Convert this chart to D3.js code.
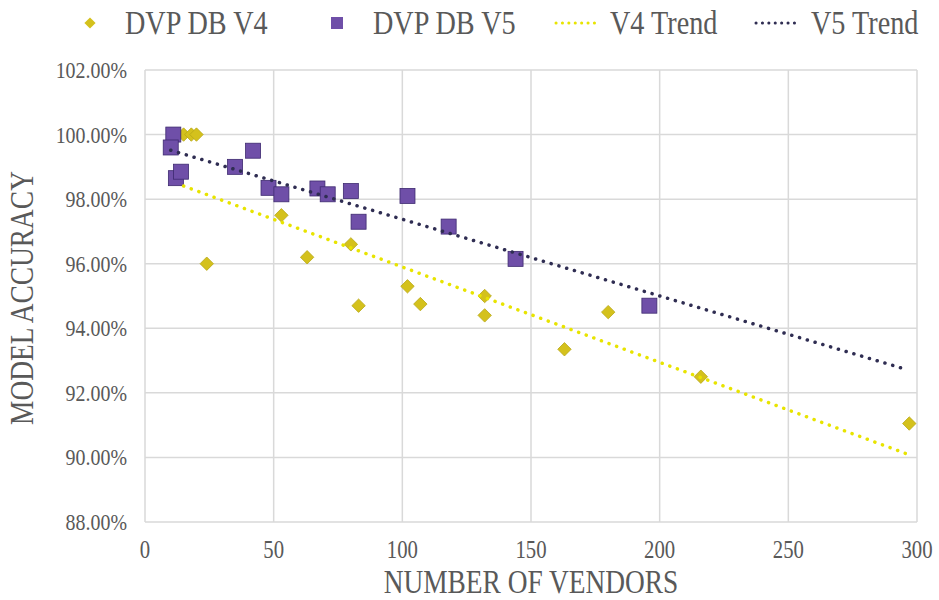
<!DOCTYPE html>
<html><head><meta charset="utf-8">
<script src="https://cdn.jsdelivr.net/npm/d3@7"></script>
<style>body{margin:0;background:#fff}svg{display:block}</style>
</head><body>
<svg id="c" width="939" height="600"></svg>
<script>
const v4X = [15, 18, 20, 24, 53, 63, 80, 83, 102, 107, 132, 132, 163, 180, 216, 297];
const v4Y = [100, 100, 100, 96.0, 97.5, 96.2, 96.6, 94.7, 95.3, 94.75, 95.0, 94.4, 93.35, 94.5, 92.5, 91.05];
const v5X = [11, 10, 12, 14, 42, 35, 48, 53, 67, 71, 80, 83, 102, 118, 144, 196];
const v5Y = [100, 99.6, 98.65, 98.85, 99.5, 99.0, 98.35, 98.15, 98.33, 98.15, 98.25, 97.3, 98.1, 97.15, 96.15, 94.7];
const xTicks = [0, 50, 100, 150, 200, 250, 300];
const yTicks = [88, 90, 92, 94, 96, 98, 100, 102];
const seriesNames = ["DVP DB V4", "DVP DB V5", "V4 Trend", "V5 Trend"];
const trendEnd = 296;

const svg = d3.select("#c");
const L = 145, R = 917, T = 70, B = 522;
const x = d3.scaleLinear().domain([0, 300]).range([L, R]);
const y = d3.scaleLinear().domain([88, 102]).range([B, T]);
const font = "'Liberation Serif','Times New Roman',serif";
const txt = "#595959";
const SX = 0.83;

// gridlines
svg.append("g").selectAll("line").data(yTicks).join("line")
  .attr("x1", L).attr("x2", R).attr("y1", d => y(d)).attr("y2", d => y(d))
  .attr("stroke", "#d9d9d9").attr("stroke-width", 1.5);
svg.append("g").selectAll("line").data(xTicks).join("line")
  .attr("y1", T).attr("y2", B).attr("x1", d => x(d)).attr("x2", d => x(d))
  .attr("stroke", "#d9d9d9").attr("stroke-width", 1.5);

// tick labels
svg.append("g").selectAll("text").data(xTicks).join("text")
  .attr("transform", d => `translate(${x(d)},558) scale(${SX},1)`)
  .attr("text-anchor", "middle").attr("font-family", font).attr("font-size", 25).attr("fill", txt)
  .text(d3.format("d"));
svg.append("g").selectAll("text").data(yTicks).join("text")
  .attr("transform", d => `translate(127,${y(d) + 8}) scale(${SX},1)`)
  .attr("text-anchor", "end").attr("font-family", font).attr("font-size", 24).attr("fill", txt)
  .text(d => d.toFixed(2) + "%");

svg.append("text").attr("transform", `translate(${(L + R) / 2},593) scale(${SX},1)`).attr("text-anchor", "middle")
  .attr("font-family", font).attr("font-size", 33).attr("fill", txt).text("NUMBER OF VENDORS");
svg.append("text").attr("transform", `translate(33,${(T + B) / 2 + 2}) rotate(-90) scale(${SX},1)`).attr("text-anchor", "middle")
  .attr("font-family", font).attr("font-size", 33).attr("fill", txt).text("MODEL ACCURACY");

// regression
function fit(xs, ys) {
  const mx = d3.mean(xs), my = d3.mean(ys);
  let sxy = 0, sxx = 0;
  xs.forEach((xv, i) => { sxy += (xv - mx) * (ys[i] - my); sxx += (xv - mx) ** 2; });
  const m = sxy / sxx; return { m, b: my - m * mx };
}
const f4 = fit(v4X, v4Y), f5 = fit(v5X, v5Y);
const line = d3.line().x(d => x(d[0])).y(d => y(d[1]));
const t4 = [d3.min(v4X), d3.max(v4X)].map(v => [v, f4.m * v + f4.b]);
const t5 = [d3.min(v5X), trendEnd].map(v => [v, f5.m * v + f5.b]);

const c4 = "#d4c11c", c4s = "#b8a818", c5 = "#6f4fa8", c5s = "#3e2a70";
const ct4 = "#e8e400", ct5 = "#2f2d52";

// markers
const diamond = d3.symbol().type(d3.symbolDiamond2).size(115);
svg.append("g").selectAll("path").data(v4X.map((v, i) => [v, v4Y[i]])).join("path")
  .attr("d", diamond).attr("transform", d => `translate(${x(d[0])},${y(d[1])})`)
  .attr("fill", c4).attr("stroke", c4s).attr("stroke-width", 0.8);
svg.append("g").selectAll("rect").data(v5X.map((v, i) => [v, v5Y[i]])).join("rect")
  .attr("x", d => x(d[0]) - 7.5).attr("y", d => y(d[1]) - 7.5).attr("width", 15).attr("height", 15)
  .attr("fill", c5).attr("stroke", c5s).attr("stroke-width", 0.8);

svg.append("path").attr("d", line(t4)).attr("fill", "none").attr("stroke", ct4)
  .attr("stroke-width", 3.5).attr("stroke-linecap", "round").attr("stroke-dasharray", "0.1 8");
svg.append("path").attr("d", line(t5)).attr("fill", "none").attr("stroke", ct5)
  .attr("stroke-width", 3.5).attr("stroke-linecap", "round").attr("stroke-dasharray", "0.1 8");

// legend
const lg = svg.append("g").attr("font-family", font).attr("font-size", 34).attr("fill", txt);
lg.append("path").attr("d", d3.symbol().type(d3.symbolDiamond2).size(80)).attr("transform", "translate(90,23)").attr("fill", c4);
lg.append("text").attr("transform", `translate(125,34) scale(${SX},1)`).text(seriesNames[0]);
lg.append("rect").attr("x", 331).attr("y", 17).attr("width", 12).attr("height", 12).attr("fill", c5);
lg.append("text").attr("transform", `translate(373,34) scale(${SX},1)`).text(seriesNames[1]);
lg.append("line").attr("x1", 556).attr("x2", 600).attr("y1", 23).attr("y2", 23).attr("stroke", ct4)
  .attr("stroke-width", 3).attr("stroke-linecap", "round").attr("stroke-dasharray", "0.1 6.3");
lg.append("text").attr("transform", `translate(610,34) scale(${SX},1)`).text(seriesNames[2]);
lg.append("line").attr("x1", 756).attr("x2", 800).attr("y1", 23).attr("y2", 23).attr("stroke", ct5)
  .attr("stroke-width", 3).attr("stroke-linecap", "round").attr("stroke-dasharray", "0.1 6.3");
lg.append("text").attr("transform", `translate(811,34) scale(${SX},1)`).text(seriesNames[3]);
</script>
</body></html>
